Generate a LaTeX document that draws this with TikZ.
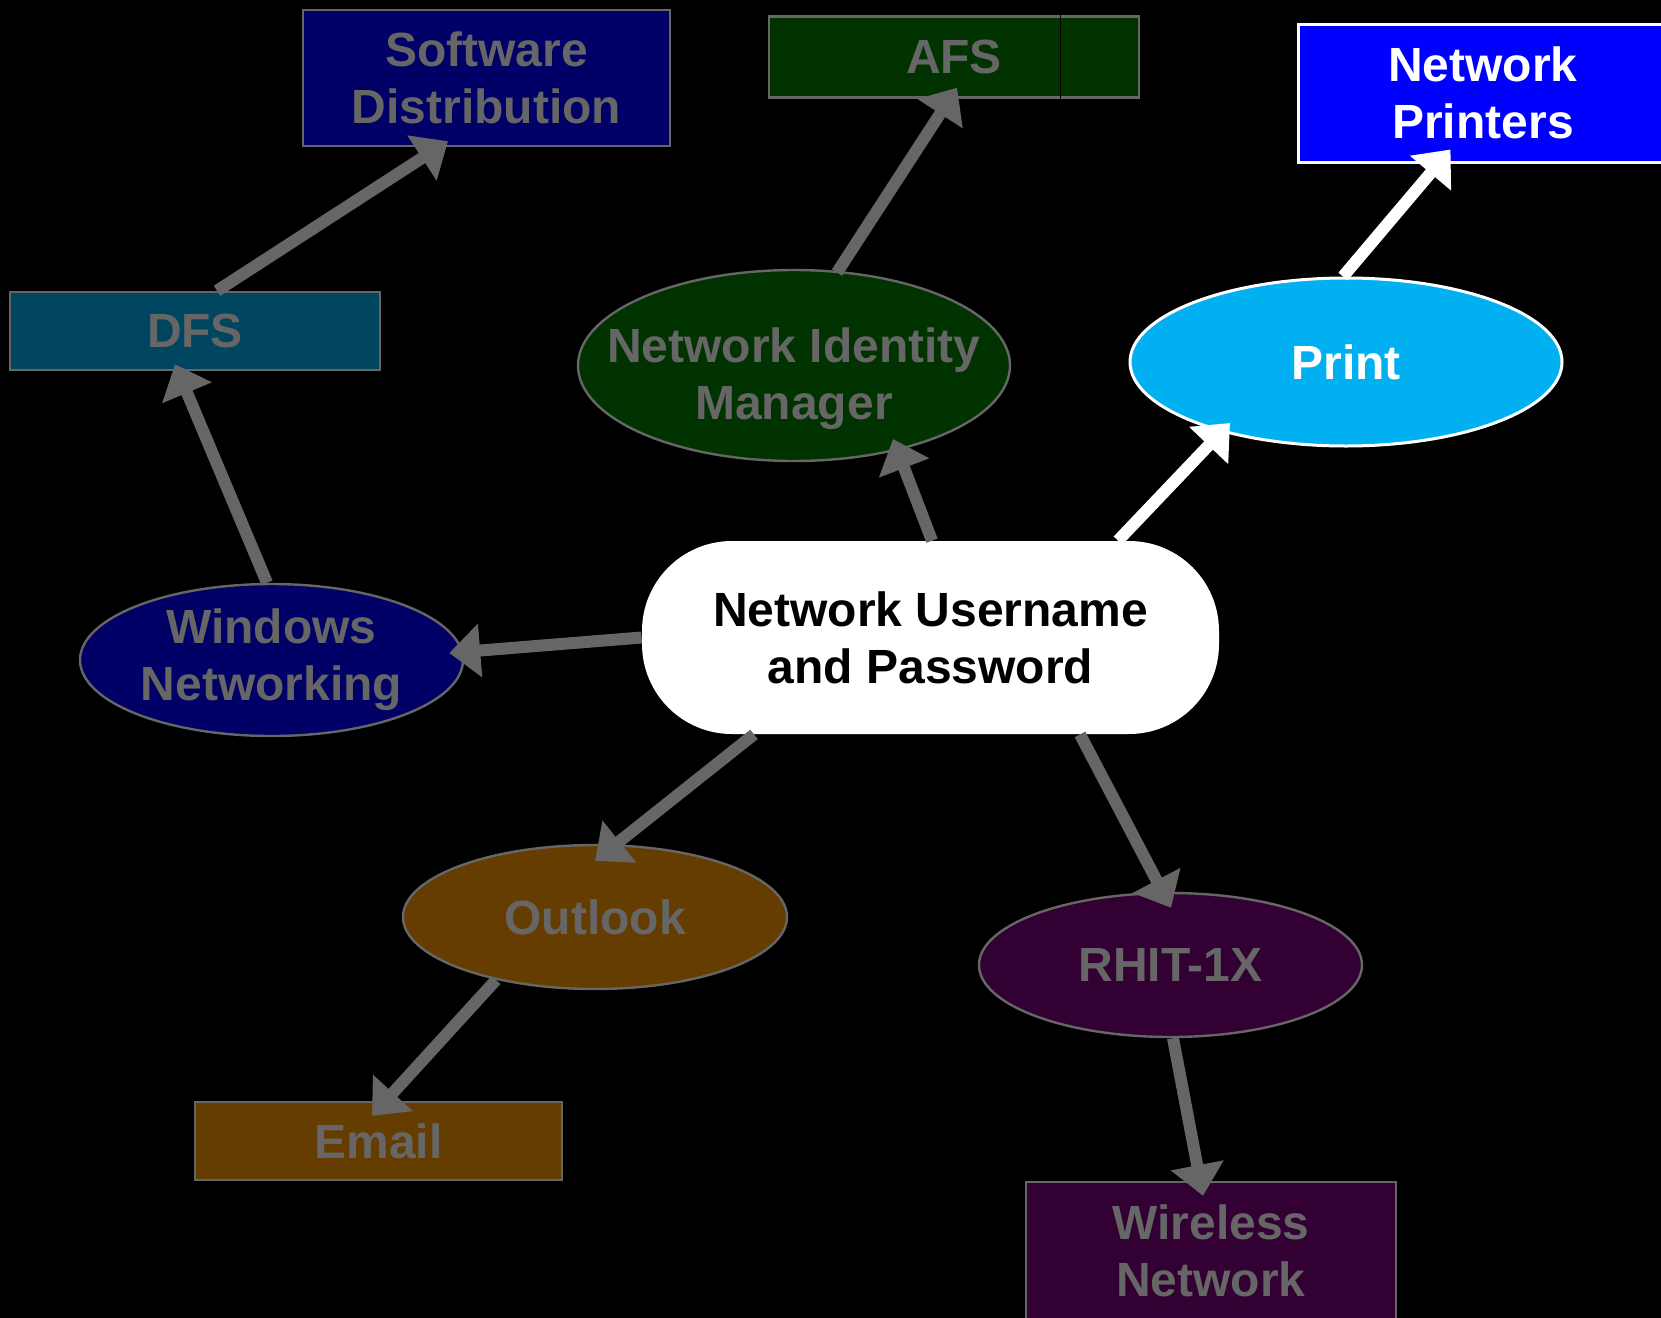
\documentclass[tikz,border=0pt]{standalone}
\usepackage{fontspec}
\setmainfont{Liberation Sans}
\usetikzlibrary{shapes.geometric,arrows.meta,calc}

\definecolor{dimtext}{RGB}{102,102,102}
\definecolor{dimnavy}{RGB}{0,0,102}
\definecolor{dimgreen}{RGB}{0,51,0}
\definecolor{dimcyan}{RGB}{0,70,96}
\definecolor{dimbrown}{RGB}{102,61,0}
\definecolor{dimpurple}{RGB}{51,0,51}
\definecolor{printcyan}{RGB}{0,176,240}
\definecolor{printerblue}{RGB}{0,0,255}

\tikzset{
  label font/.style={font=\fontsize{24}{28.5}\selectfont\bfseries, align=center},
  dimbox/.style={rectangle, draw=dimtext, line width=1.2pt, text=dimtext, inner sep=0pt, label font},
  dimoval/.style={ellipse, draw=dimtext, line width=1.2pt, text=dimtext, inner sep=0pt, label font},
  hibox/.style={rectangle, draw=white, line width=1.5pt, text=white, inner sep=0pt, label font},
  hioval/.style={ellipse, draw=white, line width=1.5pt, text=white, inner sep=0pt, label font},
  hub/.style={rectangle, rounded corners=45pt, fill=white, text=black, inner sep=0pt, label font},
  link/.style={line width=6pt, draw=dimtext, -{Triangle[length=15.5pt, width=26pt]}},
  hilink/.style={link, draw=white},
}

\begin{document}
\begin{tikzpicture}[x=0.5pt, y=-0.5pt]
  \useasboundingbox (0,0) rectangle (1661,1318);
  \fill[black] (0,0) rectangle (1661,1318);
  \clip (0,0) rectangle (1661,1318);

  % rectangles
  \node[dimbox, fill=dimnavy, minimum width=183.5pt, minimum height=68pt]
    (sw) at (486.5,78) {Software\\Distribution};
  \node[dimbox, fill=dimgreen, minimum width=185pt, minimum height=40.5pt]
    (afs) at (954,57) {AFS};
  \draw[black, line width=0.6pt] ($(afs.south west)+(293,0)$) -- ($(afs.north west)+(293,0)$);
  \node[hibox, fill=printerblue, minimum width=185pt, minimum height=69pt]
    (np) at (1483,93) {Network\\Printers};
  \node[dimbox, fill=dimcyan, minimum width=185pt, minimum height=39pt]
    (dfs) at (195,331) {DFS};
  \node[dimbox, fill=dimbrown, minimum width=183.5pt, minimum height=39pt]
    (email) at (378.5,1141) {Email};
  \node[dimbox, fill=dimpurple, minimum width=185pt, minimum height=69pt]
    (wifi) at (1211,1251) {Wireless\\Network};

  % ellipses
  \node[dimoval, fill=dimgreen, minimum width=216pt, minimum height=95.5pt,
        label={[label font, text=dimtext, yshift=-6.6pt]center:Network Identity\\Manager}]
    (nim) at (794,365.5) {};
  \node[hioval, fill=printcyan, minimum width=216pt, minimum height=84pt]
    (print) at (1346,362) {Print};
  \node[dimoval, fill=dimnavy, minimum width=191.5pt, minimum height=76pt]
    (win) at (271.5,660) {Windows\\Networking};
  \node[dimoval, fill=dimbrown, minimum width=192pt, minimum height=72pt]
    (outlook) at (595,917) {Outlook};
  \node[dimoval, fill=dimpurple, minimum width=191.5pt, minimum height=72pt]
    (rhit) at (1170.5,965) {RHIT-1X};

  % central hub
  \node[hub, minimum width=288.5pt, minimum height=96.5pt]
    (hub) at (930.5,637.5) {Network Username\\and Password};

  % connectors
  \draw[link] ($(win.north)+(-4.5,0)$) -- ($(dfs.south)+(-20,-7)$);
  \draw[link] ($(dfs.north)+(22,0)$) -- ($(sw.south)+(-38.5,-6)$);
  \draw[link] ($(nim.center)+(43,-93)$) -- ($(afs.south)+(3,-11)$);
  \draw[link] ($(hub.north)+(1.5,0)$) -- ($(nim.center)+(99,73.5)$);
  \draw[hilink] ($(hub.north)+(187.5,0)$) -- ($(print.center)+(-116,61)$);
  \draw[hilink] ($(print.north)+(-3,0)$) -- ($(np.south west)+(154,-14)$);
  \draw[link] (hub.west) -- ($(win.east)+(-15,-7)$);
  \draw[link] ($(hub.south)+(-176.5,0)$) -- ($(outlook.north)+(0,17)$);
  \draw[link] ($(hub.south)+(149.5,0)$) -- ($(rhit.north)+(0.5,16)$);
  \draw[link] ($(outlook.center)+(-99,63)$) -- ($(email.north)+(-6.5,15)$);
  \draw[link] ($(rhit.south)+(2.5,0)$) -- ($(wifi.north)+(-8,15)$);
\end{tikzpicture}
\end{document}
